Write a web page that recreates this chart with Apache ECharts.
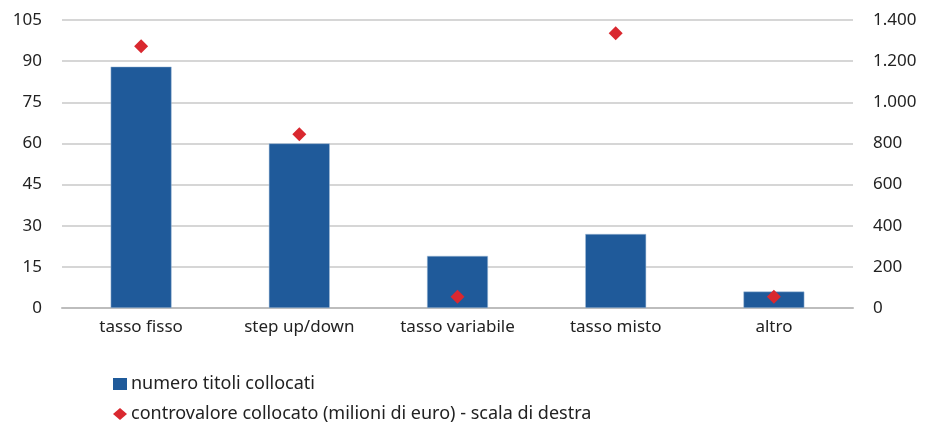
<!DOCTYPE html>
<html>
<head>
<meta charset="utf-8">
<script src="https://cdn.jsdelivr.net/npm/echarts@6/dist/echarts.min.js"></script>
<style>
  html, body { margin: 0; padding: 0; background: #fff; }
  #chart { width: 930px; height: 428px; }
</style>
</head>
<body>
<div id="chart"></div>
<script>
// chart data
const categories = ['tasso fisso', 'step up/down', 'tasso variabile', 'tasso misto', 'altro'];
const numeroTitoli = [88, 60, 19, 27, 6];
const controvalore = [1272, 845, 55, 1335, 55];
const seriesNames = ['numero titoli collocati', 'controvalore collocato (milioni di euro) - scala di destra'];

const fontFamily = '"Noto Sans", "Open Sans", sans-serif';

let chart = echarts.init(document.getElementById('chart'));

// thousands with a dot, Italian style
function fmtIt(v) {
    return String(v).replace(/\B(?=(\d{3})+(?!\d))/g, '.');
}

const option = {
    animation: false,
    textStyle: { fontFamily: fontFamily },
    grid: { left: 62, right: 77, top: 20, bottom: 120 },
    legend: {
        orient: 'vertical',
        left: 108,
        top: 370,
        itemGap: 12,
        itemWidth: 14,
        itemHeight: 12,
        itemStyle: { borderWidth: 0 },
        textStyle: { fontSize: 18, color: '#222', fontFamily: fontFamily, padding: [0, 0, 0, -1] },
        data: [
            { name: seriesNames[0], icon: 'rect' },
            { name: seriesNames[1], icon: 'diamond' }
        ]
    },
    xAxis: {
        type: 'category',
        data: categories,
        axisTick: { show: false },
        axisLine: { lineStyle: { color: '#bdbdbd', width: 2 } },
        axisLabel: { fontSize: 17, color: '#222', margin: 11 }
    },
    yAxis: [
        {
            type: 'value',
            min: 0,
            max: 105,
            interval: 15,
            axisLine: { show: false },
            axisTick: { show: false },
            splitLine: { lineStyle: { color: '#c8c8c8', width: 1.5 } },
            axisLabel: { fontSize: 17, color: '#222', margin: 20 }
        },
        {
            type: 'value',
            min: 0,
            max: 1400,
            interval: 200,
            axisLine: { show: false },
            axisTick: { show: false },
            splitLine: { show: false },
            axisLabel: { fontSize: 17, color: '#222', margin: 20, formatter: fmtIt }
        }
    ],
    series: [
        {
            name: seriesNames[0],
            type: 'bar',
            yAxisIndex: 0,
            barWidth: '38.5%',
            itemStyle: { color: '#1f5a9a', borderColor: '#a9c0da', borderWidth: 0.5 },
            data: numeroTitoli
        },
        {
            name: seriesNames[1],
            type: 'scatter',
            yAxisIndex: 1,
            symbol: 'diamond',
            symbolSize: 14,
            itemStyle: { color: '#d9282f', opacity: 1 },
            z: 5,
            data: controvalore
        }
    ]
};

chart.setOption(option);
</script>
</body>
</html>
